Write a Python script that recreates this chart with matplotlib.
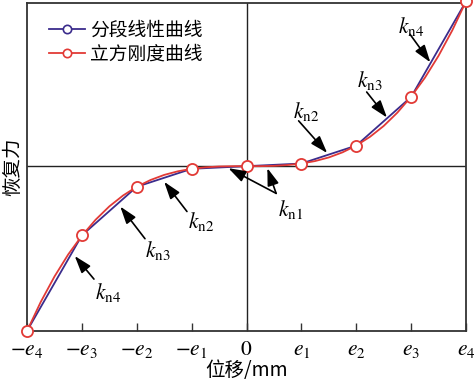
import matplotlib
matplotlib.use("Agg")
import matplotlib.pyplot as plt

plt.rcParams['mathtext.fontset'] = 'stix'
plt.rcParams['font.family'] = ['Noto Sans CJK SC', 'DejaVu Sans']

# ---- data (x in units of e_i, force normalised) ----
seg_x = [-4, -3, -2, -1, 0, 1, 2, 3, 4]
seg_y = [-1.0, -0.42, -0.125, -0.016, 0.0, 0.016, 0.125, 0.42, 1.0]

cub_x = [-4, -3.75, -3.5, -3.25, -3, -2.75, -2.5, -2.25, -2, -1.75, -1.5, -1.25, -1,
         -0.75, -0.5, -0.25, 0, 0.25, 0.5, 0.75, 1, 1.25, 1.5, 1.75, 2, 2.25, 2.5,
         2.75, 3, 3.25, 3.5, 3.75, 4]
cub_y = [-1.0, -0.824, -0.67, -0.536, -0.422, -0.325, -0.244, -0.178, -0.125, -0.084,
         -0.053, -0.031, -0.016, -0.007, -0.002, -0.0002, 0.0, 0.0002, 0.002, 0.007,
         0.016, 0.031, 0.053, 0.084, 0.125, 0.178, 0.244, 0.325, 0.422, 0.536, 0.67,
         0.824, 1.0]

tick_pos = [-4, -3, -2, -1, 0, 1, 2, 3, 4]
tick_labels = [r'$-e_4$', r'$-e_3$', r'$-e_2$', r'$-e_1$', r'$0$',
               r'$e_1$', r'$e_2$', r'$e_3$', r'$e_4$']

legend_labels = ['分段线性曲线', '立方刚度曲线']
xlabel = '位移/mm'
ylabel = '恢复力'

# annotations: label, text-left (x,y), arrow tail, arrow tips (data coords)
annots = [
    (r'$k_{\rm n4}$', (-2.76, -0.765), (-2.78, -0.685), [(-3.13, -0.545)]),
    (r'$k_{\rm n3}$', (-1.85, -0.51), (-1.85, -0.44), [(-2.30, -0.245)]),
    (r'$k_{\rm n2}$', (-1.07, -0.335), (-1.085, -0.275), [(-1.50, -0.095)]),
    (r'$k_{\rm n1}$', (0.57, -0.265), (0.54, -0.165), [(-0.33, -0.012), (0.38, -0.012)]),
    (r'$k_{\rm n2}$', (0.85, 0.33), (0.95, 0.275), [(1.47, 0.08)]),
    (r'$k_{\rm n3}$', (2.01, 0.52), (2.19, 0.45), [(2.56, 0.295)]),
    (r'$k_{\rm n4}$', (2.76, 0.85), (2.98, 0.80), [(3.35, 0.63)]),
]

blue = '#3b2c8c'
red = '#e23a36'

fig = plt.figure(figsize=(4.74, 3.83), dpi=100)
ax = fig.add_axes([27/474, 52/383, (466-27)/474, (380-52)/383])

ax.axhline(0, color='#222222', lw=1.0, zorder=1)
ax.axvline(0, color='#222222', lw=1.0, zorder=1)

ax.plot(seg_x, seg_y, color=blue, lw=1.3, marker='o', ms=6, mfc='white',
        mec=blue, mew=1.2, label=legend_labels[0], zorder=3, clip_on=False)
ax.plot(cub_x, cub_y, color=red, lw=1.3, zorder=4, clip_on=False)
ax.plot(seg_x, seg_y, linestyle='none', marker='o', ms=8, mfc='white',
        mec=red, mew=1.3, zorder=5, clip_on=False)
# legend proxy for red
ax.plot([], [], color=red, lw=1.3, marker='o', ms=6, mfc='white', mec=red,
        mew=1.2, label=legend_labels[1])

for lab, txy, tail, tips in annots:
    ax.text(txy[0], txy[1], lab, fontsize=15.5, ha='left', va='center', zorder=6)
    for tip in tips:
        ax.annotate('', xy=tip, xytext=tail,
                    arrowprops=dict(arrowstyle='-|>,head_length=0.75,head_width=0.25',
                                    color='black', lw=1.2,
                                    mutation_scale=14, shrinkA=0, shrinkB=0),
                    zorder=6)

ax.set_xlim(-4, 4)
ax.set_ylim(-1.0, 0.99)
ax.set_xticks(tick_pos)
ax.set_xticklabels(tick_labels, fontsize=15.5)
ax.set_yticks([])
ax.tick_params(axis='x', direction='in', length=6, width=1.0, pad=5, color='#333333')
for s in ax.spines.values():
    s.set_linewidth(1.3)
    s.set_color('#333333')

ax.set_xlabel(xlabel, fontsize=14, labelpad=0)
ax.set_ylabel(ylabel, fontsize=14, labelpad=3)

ax.legend(loc='upper left', bbox_to_anchor=(0.025, 0.985), frameon=False,
          fontsize=13.5, handlelength=1.9, handletextpad=0.3, labelspacing=0.2,
          borderaxespad=0.2)

fig.savefig('out.png', dpi=100)
